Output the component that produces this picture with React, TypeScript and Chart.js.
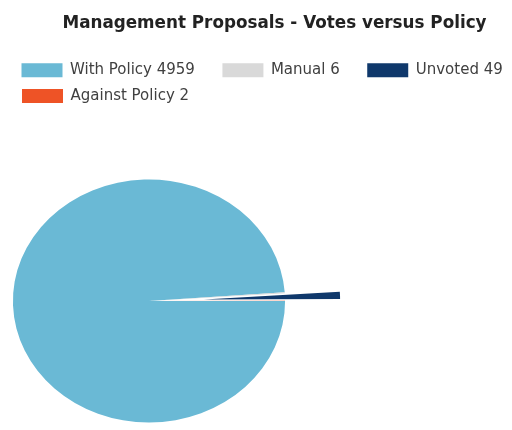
import React, { useEffect, useRef } from 'react';
import { Chart, registerables } from 'chart.js';

Chart.register(...registerables);

// ---- data ----
const categories = ['With Policy', 'Manual', 'Unvoted', 'Against Policy'];
const votes = [4959, 6, 49, 2];
const titleText = 'Management Proposals - Votes versus Policy';
const legendLabels = categories.map((c, i) => `${c} ${votes[i]}`);

// ---- styles ----
const sliceColors = ['#6AB9D5', '#D9D9D9', '#0F386B', '#EE5326'];
const EXPLODED = 2; // index of the exploded slice (Unvoted)
const NONE = 'rgba(0,0,0,0)';
const pieColors = sliceColors.map((c, i) => (i === EXPLODED ? NONE : c));
const explodedColors = sliceColors.map((c, i) => (i === EXPLODED ? c : NONE));

const FONT = "'DejaVu Sans', sans-serif";
const PIE_STRETCH_X = 1.12;
const PIE_RADIUS = 121.5;

// Excel draws this pie slightly elliptical: stretch the dataset drawing horizontally about the pie centre.
const stretchPlugin = {
  id: 'pieStretch',
  beforeDatasetsDraw(chart: any) {
    const ctx = chart.ctx;
    ctx.save();
    const arc = chart.getDatasetMeta(0).data[0];
    if (arc) {
      const { x, y } = arc;
      ctx.translate(x, y);
      ctx.scale(PIE_STRETCH_X, 1);
      ctx.translate(-x, -y);
    }
  },
  afterDatasetsDraw(chart: any) {
    chart.ctx.restore();
  },
};

const legendLabelOpts = {
  boxWidth: 41,
  boxHeight: 14,
  color: '#404040',
  font: { family: FONT, size: 15 },
};

export default function App() {
  const headRef = useRef<HTMLCanvasElement>(null);
  const pieRef = useRef<HTMLCanvasElement>(null);
  const sliceRef = useRef<HTMLCanvasElement>(null);

  useEffect(() => {
    // Title + first legend row
    const head = new Chart(headRef.current as HTMLCanvasElement, {
      type: 'pie',
      data: {
        labels: legendLabels,
        datasets: [{ data: votes, backgroundColor: sliceColors, borderWidth: 0 }],
      },
      options: {
        responsive: false,
        animation: false,
        radius: 0,
        events: [],
        plugins: {
          title: {
            display: true,
            text: titleText,
            color: '#222222',
            font: { family: FONT, size: 16.8, weight: 'bold' },
            padding: { top: 14, bottom: 1 },
          },
          legend: {
            display: true,
            position: 'top',
            align: 'start',
            labels: {
              ...legendLabelOpts,
              padding: 27.5,
              filter: (item: any) => item.index < 3,
            },
          },
          tooltip: { enabled: false },
        },
      } as any,
    });

    // Pie (without the exploded slice) + second legend row
    const pie = new Chart(pieRef.current as HTMLCanvasElement, {
      type: 'pie',
      data: {
        labels: legendLabels,
        datasets: [{ data: votes, backgroundColor: pieColors, borderWidth: 0 } as any],
      },
      options: {
        responsive: false,
        animation: false,
        rotation: 90,
        radius: PIE_RADIUS,
        events: [],
        layout: { padding: { left: 0, right: 214, top: 66.5, bottom: 1.5 } },
        plugins: {
          title: { display: false },
          legend: {
            display: true,
            position: 'top',
            align: 'start',
            labels: {
              ...legendLabelOpts,
              color: '#404040',
              generateLabels: (chart: any) =>
                Chart.overrides.pie.plugins.legend.labels
                  .generateLabels(chart)
                  .map((it: any) => ({ ...it, fillStyle: sliceColors[it.index] })),
              padding: 22,
              filter: (item: any) => item.index === 3,
            },
          },
          tooltip: { enabled: false },
        },
      } as any,
      plugins: [stretchPlugin],
    });

    // Exploded slice: same pie, centre pulled out along the slice bisector
    const slice = new Chart(sliceRef.current as HTMLCanvasElement, {
      type: 'pie',
      data: {
        labels: legendLabels,
        datasets: [{ data: votes, backgroundColor: explodedColors, borderWidth: 0 } as any],
      },
      options: {
        responsive: false,
        animation: false,
        rotation: 90,
        radius: PIE_RADIUS,
        events: [],
        layout: { padding: { left: 0, right: 104, top: 110, bottom: 1.2 } },
        plugins: {
          title: { display: false },
          legend: { display: false },
          tooltip: { enabled: false },
        },
      } as any,
      plugins: [stretchPlugin],
    });

    return () => {
      head.destroy();
      pie.destroy();
      slice.destroy();
    };
  }, []);

  return (
    <div
      style={{
        position: 'absolute',
        left: 0,
        top: 0,
        width: 512,
        height: 430,
        overflow: 'hidden',
        background: '#ffffff',
      }}
    >
      <canvas ref={pieRef} width={512} height={490} style={{ position: 'absolute', left: 0, top: 0 }} />
      <canvas ref={sliceRef} width={512} height={490} style={{ position: 'absolute', left: 0, top: 0 }} />
      <canvas ref={headRef} width={561} height={430} style={{ position: 'absolute', left: -6, top: 0 }} />
    </div>
  );
}
